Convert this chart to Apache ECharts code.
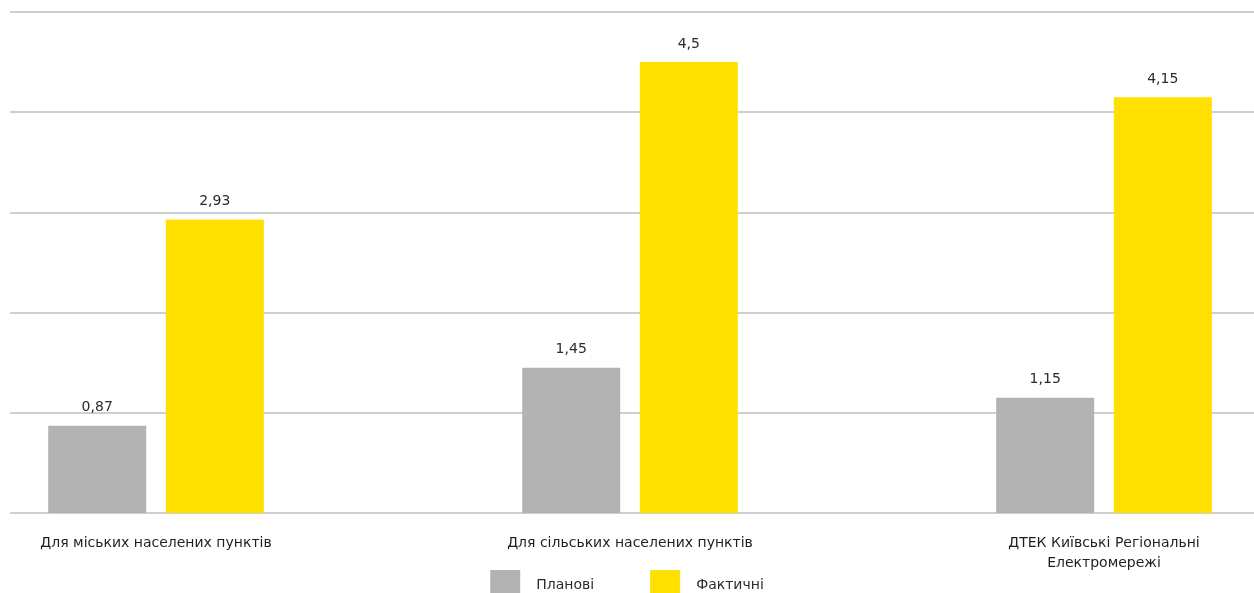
<!DOCTYPE html>
<html>
<head>
    <meta charset="utf-8" />
    <title>ECharts</title>
    <script src="https://cdn.jsdelivr.net/npm/echarts@6/dist/echarts.min.js"></script>
    <style type="text/css">
        body {
            margin: 0;
            padding: 0;
            background-color: #ffffff;
            overflow: hidden;
        }

        #main {
            width: 1254px;
            height: 593px;
        }
    </style>
</head>
<body>
    <div id="main"></div>
    <script type="text/javascript">
        // дані
        var categories = ['Для міських населених пунктів', 'Для сільських населених пунктів', 'ДТЕК Київські Регіональні\nЕлектромережі'];
        var planned = [0.87, 1.45, 1.15];
        var actual = [2.93, 4.5, 4.15];
        var seriesNames = ['Планові', 'Фактичні'];

        var fontFamily = '"DejaVu Sans", "Liberation Sans", sans-serif';
        var myChart = echarts.init(document.getElementById('main'));

        // підпис над стовпчиком: кома замість крапки
        function valueLabel(p) {
            return String(p.value).replace('.', ',');
        }

        var labelStyle = {
            show: true,
            position: 'top',
            distance: 11,
            color: '#2b2b2b',
            fontSize: 14,
            fontFamily: fontFamily,
            formatter: valueLabel
        };

        var option = {
            animation: false,
            // grid 0 - стовпчики (ширший за полотно), grid 1 - лише лінії сітки
            grid: [
                { left: -81, right: -87, top: 12, bottom: 80, outerBoundsMode: 'none', containLabel: false },
                { left: 10, right: 0, top: 12, bottom: 80, outerBoundsMode: 'none' }
            ],
            legend: {
                data: seriesNames,
                top: 565,
                left: 'center',
                itemWidth: 30,
                itemHeight: 30,
                itemGap: 56,
                icon: 'rect',
                textStyle: { color: '#2b2b2b', fontSize: 14, fontFamily: fontFamily, padding: [0, 0, 0, 11] }
            },
            xAxis: [
                {
                    type: 'category',
                    gridIndex: 0,
                    data: categories,
                    axisLine: { show: false },
                    axisTick: { show: false },
                    axisLabel: {
                        interval: 0,
                        margin: 20,
                        color: '#1f1f1f',
                        fontSize: 14,
                        lineHeight: 20,
                        fontFamily: fontFamily
                    }
                },
                {
                    type: 'category',
                    gridIndex: 1,
                    data: categories,
                    show: false
                }
            ],
            yAxis: [
                {
                    type: 'value',
                    gridIndex: 0,
                    min: 0,
                    max: 5,
                    interval: 1,
                    axisLabel: { show: false },
                    splitLine: { show: false }
                },
                {
                    type: 'value',
                    gridIndex: 1,
                    min: 0,
                    max: 5,
                    interval: 1,
                    axisLabel: { show: false },
                    splitLine: { show: true, lineStyle: { color: '#cfcfcf', width: 2 } }
                }
            ],
            series: [
                {
                    name: seriesNames[0],
                    type: 'bar',
                    xAxisIndex: 0,
                    yAxisIndex: 0,
                    data: planned,
                    barWidth: 98,
                    barGap: '20%',
                    itemStyle: { color: '#b3b3b3' },
                    label: labelStyle
                },
                {
                    name: seriesNames[1],
                    type: 'bar',
                    xAxisIndex: 0,
                    yAxisIndex: 0,
                    data: actual,
                    barWidth: 98,
                    barGap: '20%',
                    itemStyle: { color: '#ffe000' },
                    label: labelStyle
                }
            ]
        };

        myChart.setOption(option);
    </script>
</body>
</html>
